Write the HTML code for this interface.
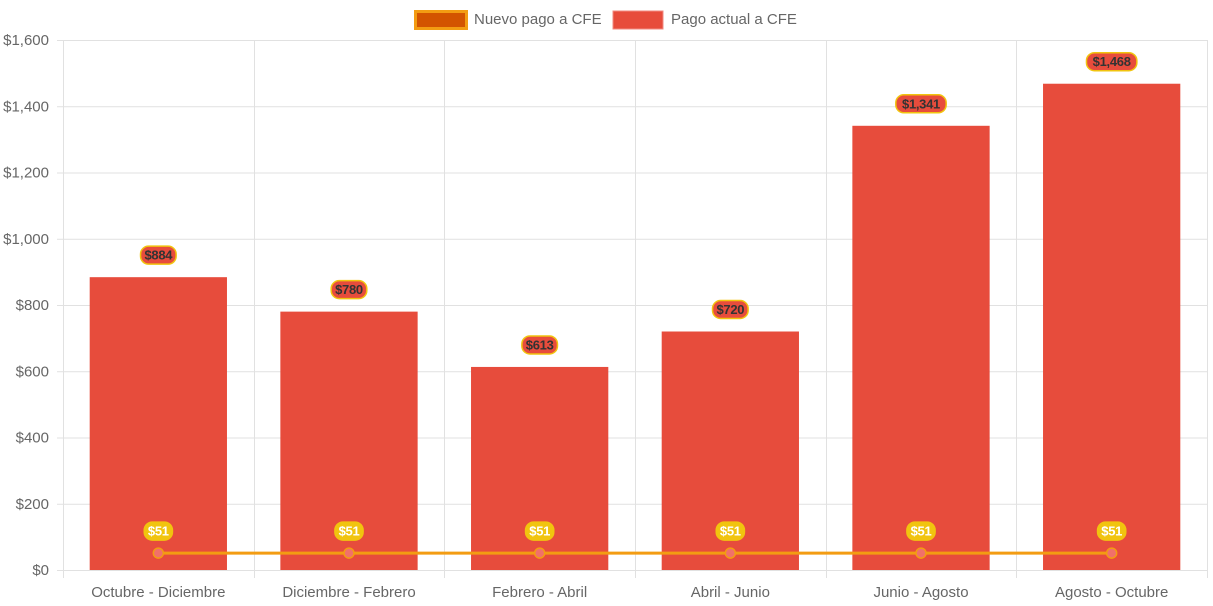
<!DOCTYPE html>
<html><head><meta charset="utf-8"><style>
body{margin:0;background:#fff;font-family:"Liberation Sans",Arial,sans-serif}
svg{display:block}
</style></head><body>
<svg id="chart" width="1213" height="606" font-family="Liberation Sans, Arial, sans-serif"></svg>
<script>
const categories=["Octubre - Diciembre","Diciembre - Febrero","Febrero - Abril","Abril - Junio","Junio - Agosto","Agosto - Octubre"];
const actualValues=[884,780,613,720,1341,1468];
const nuevoValues=[51,51,51,51,51,51];
const yTicks=[0,200,400,600,800,1000,1200,1400,1600];
const yTickLabels=["$0","$200","$400","$600","$800","$1,000","$1,200","$1,400","$1,600"];

const svg=document.getElementById('chart');
const NS='http://www.w3.org/2000/svg';
const L=63,R=1207,T=40,B=570,yMax=1600;
const bw=(R-L)/categories.length;
const y=v=>B-(v/yMax)*(B-T);
const xc=i=>L+bw*(i+0.5);
function mk(tag,attrs,parent){const e=document.createElementNS(NS,tag);for(const k in attrs)e.setAttribute(k,attrs[k]);(parent||svg).appendChild(e);return e;}
function fmt(v){return '$'+v.toLocaleString('en-US');}

const grid=mk('g',{});


yTicks.forEach((t,i)=>{
  mk('line',{x1:L-6,x2:R,y1:y(t)+0.5,y2:y(t)+0.5,stroke:'#e1e1e1','stroke-width':1},grid);
  const tx=mk('text',{x:L-14,y:y(t)+5,'text-anchor':'end','font-size':15,fill:'#666'});
  tx.textContent=yTickLabels[i];
  
  
});
for(let i=0;i<=categories.length;i++){
  const x=Math.round(L+bw*i)+0.5;
  mk('line',{x1:x,x2:x,y1:T,y2:B+8,stroke:'#e1e1e1','stroke-width':1},grid);
}
categories.forEach((c,i)=>{
  const tx=mk('text',{x:xc(i),y:597,'text-anchor':'middle','font-size':15,fill:'#666'});
  tx.textContent=c;
  
  
});

actualValues.forEach((v,i)=>{
  const w=bw*0.72;
  const r=mk('rect',{x:xc(i)-w/2,y:y(v),width:w,height:B-y(v),fill:'#e74c3c'});
  
  
});
const pts=nuevoValues.map((v,i)=>xc(i)+','+y(v)).join(' ');
const pl=mk('polyline',{points:pts,fill:'none',stroke:'#f39c12','stroke-width':3});


nuevoValues.forEach((v,i)=>{
  const c=mk('circle',{cx:xc(i),cy:y(v),r:5,fill:'#f1706a',stroke:'#f39c12','stroke-width':1.5});
  
  
});
function label(x,cy,text,fill,stroke,color,name){
  const g=mk('g',{});
  
  
  const w=text.length*7.4+6;
  mk('rect',{x:x-w/2,y:cy-9,width:w,height:18,rx:8,fill:fill,stroke:stroke,'stroke-width':1.5},g);
  const t=mk('text',{x:x,y:cy+4.5,'text-anchor':'middle','font-size':13,'font-weight':'bold',fill:color,'letter-spacing':'-0.3'},g);
  t.textContent=text;
}
actualValues.forEach((v,i)=>label(xc(i),y(v)-22,fmt(v),'#e74c3c','#f1c40f','#333','bar-value-label'));
nuevoValues.forEach((v,i)=>label(xc(i),y(v)-22,fmt(v),'#f1c40f','#f1c40f','#fff','point-value-label'));

const lg=mk('g',{});


const l1=mk('g',{},lg);


mk('rect',{x:415.5,y:11.5,width:51,height:17,fill:'#d35400',stroke:'#f39c12','stroke-width':3},l1);
const t1=mk('text',{x:474,y:24,'font-size':15,fill:'#666'},l1);t1.textContent='Nuevo pago a CFE';
const l2=mk('g',{},lg);


mk('rect',{x:613,y:11,width:50,height:18,fill:'#e74c3c',stroke:'#f08a80','stroke-width':1},l2);
const t2=mk('text',{x:671,y:24,'font-size':15,fill:'#666'},l2);t2.textContent='Pago actual a CFE';
</script>
</body></html>
